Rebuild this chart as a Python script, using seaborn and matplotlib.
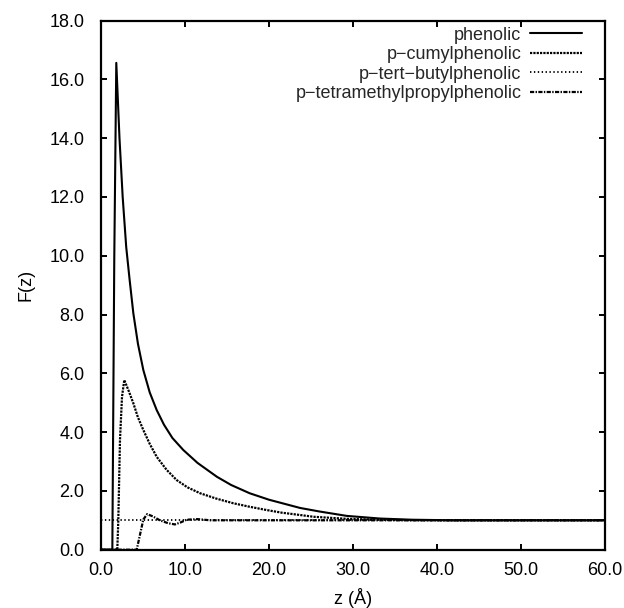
import matplotlib
matplotlib.use("Agg")
import matplotlib.pyplot as plt
import numpy as np
import pandas as pd
import seaborn as sns

# ---- data ----
series_names = ["phenolic", "p\u2212cumylphenolic", "p\u2212tert\u2212butylphenolic",
                "p\u2212tetramethylpropylphenolic"]

z_phenolic = [0.0, 1.35, 1.58, 1.82, 2.2, 2.58, 3.0, 3.4, 3.85, 4.4, 5.04, 5.8, 6.63,
              7.5, 8.5, 9.8, 11.5, 13.8, 15.5, 17.7, 20.0, 23.7, 26.0, 29.25, 33.2,
              37.0, 42.0, 60.0]
F_phenolic = [0.0, 0.0, 9.9, 16.56, 14.0, 12.0, 10.3, 9.2, 8.04, 7.0, 6.11, 5.35, 4.75,
              4.25, 3.8, 3.39, 2.95, 2.48, 2.2, 1.92, 1.7, 1.42, 1.3, 1.15, 1.06,
              1.02, 1.0, 1.0]

z_cumyl = [0.0, 1.94, 2.06, 2.26, 2.5, 2.77, 3.3, 3.85, 4.4, 5.04, 5.8, 6.63, 7.8, 9.0,
           10.3, 11.8, 13.7, 15.75, 17.7, 19.7, 21.5, 23.7, 25.3, 29.25, 33.0, 38.0, 60.0]
F_cumyl = [0.0, 0.0, 1.0, 3.73, 5.2, 5.77, 5.4, 4.98, 4.5, 4.07, 3.6, 3.16, 2.72, 2.37,
           2.12, 1.92, 1.74, 1.58, 1.46, 1.35, 1.26, 1.18, 1.12, 1.05, 1.02, 1.0, 1.0]

z_tbutyl = [0.0, 10.0, 20.0, 30.0, 40.0, 50.0, 60.0]
F_tbutyl = [1.0, 1.0, 1.0, 1.0, 1.0, 1.0, 1.0]

z_tmp = [0.0, 4.25, 5.04, 5.5, 6.2, 7.0, 8.0, 8.8, 9.5, 10.2, 11.5, 13.0, 20.0, 60.0]
F_tmp = [0.0, 0.0, 1.03, 1.21, 1.13, 1.0, 0.9, 0.86, 0.93, 1.02, 1.04, 1.0, 1.0, 1.0]

x_ticks = [0, 10, 20, 30, 40, 50, 60]
y_ticks = [0, 2, 4, 6, 8, 10, 12, 14, 16, 18]

# ---- styling ----
sns.set_theme(style="white")
plt.rcParams['font.family'] = ['Liberation Sans', 'DejaVu Sans']
plt.rcParams['lines.scale_dashes'] = False
plt.rcParams['axes.unicode_minus'] = True

FS = 13

fig = plt.figure(figsize=(6.24, 6.08), dpi=100)
ax = fig.add_axes([101 / 624, 1 - 549.7 / 608, 504 / 624, 529.2 / 608])

styles = ["-", (0, (1.6, 0.8)), (0, (1.0, 1.8)), (0, (3.0, 1.0, 1.0, 1.0))]
widths = [1.5, 1.6, 1.3, 1.6]
data_sets = [(z_phenolic, F_phenolic), (z_cumyl, F_cumyl), (z_tbutyl, F_tbutyl), (z_tmp, F_tmp)]

for name, (zz, ff), ls, lw in zip(series_names, data_sets, styles, widths):
    df = pd.DataFrame({"z": zz, "F": ff})
    sns.lineplot(data=df, x="z", y="F", ax=ax, color="black", linestyle=ls,
                 linewidth=lw, label=name, sort=False, estimator=None)

ax.set_xlim(0, 60)
ax.set_ylim(0, 18)
ax.set_xticks(x_ticks)
ax.set_xticklabels([f"{v:.1f}" for v in x_ticks])
ax.set_yticks(y_ticks)
ax.set_yticklabels([f"{v:.1f}" for v in y_ticks])

for sp in ax.spines.values():
    sp.set_visible(True)
    sp.set_color("black")
    sp.set_linewidth(1.6)

ax.tick_params(axis="both", which="major", direction="in", length=4, width=1.4,
               color="black", labelsize=FS, labelcolor="black",
               top=True, right=True, bottom=True, left=True)
ax.tick_params(axis="y", pad=12)
ax.tick_params(axis="x", pad=9)

ax.set_xlabel("z (\u00c5)", fontsize=FS, color="black")
ax.set_ylabel("F(z)", fontsize=FS, color="black")
ax.xaxis.set_label_coords(0.5, -0.072)
ax.yaxis.set_label_coords(-0.131, 0.5)

handles, labels = ax.get_legend_handles_labels()
leg = ax.legend(handles, labels, loc="upper right", markerfirst=False, frameon=False,
                fontsize=FS, handlelength=2.9, handletextpad=0.45, labelspacing=0.14,
                borderpad=0, borderaxespad=0,
                bbox_to_anchor=(582 / 624, 1 - 26.5 / 608), bbox_transform=fig.transFigure)

fig.savefig("out.png", dpi=100, facecolor="white")
